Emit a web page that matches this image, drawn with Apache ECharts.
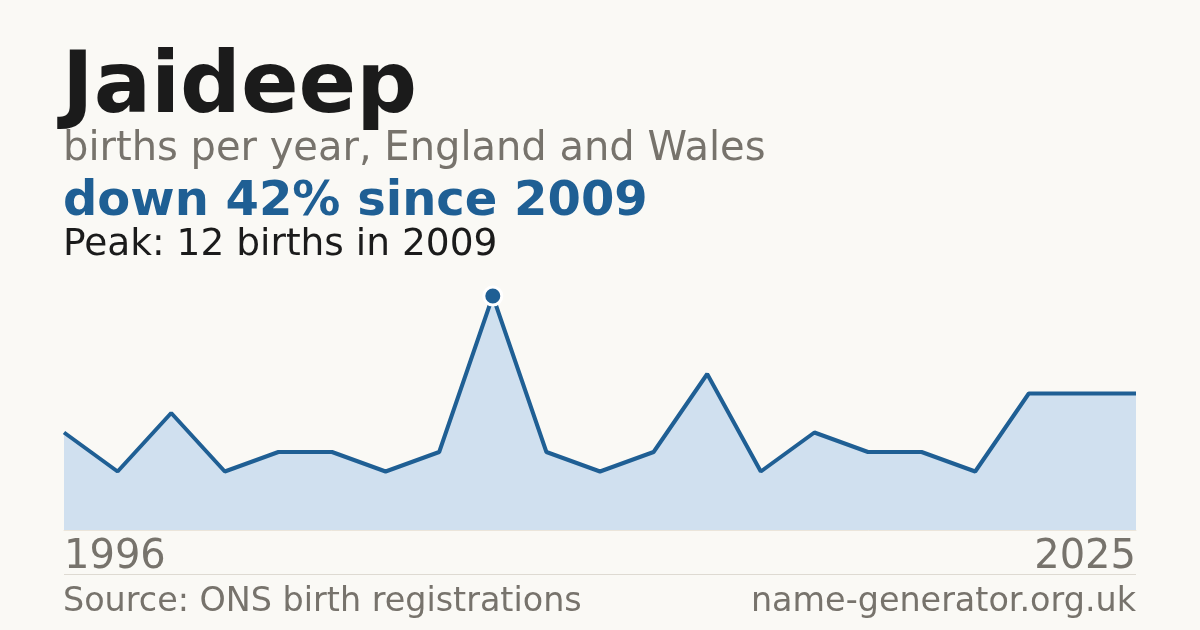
<!DOCTYPE html>
<html lang="en">
<head>
    <meta charset="UTF-8">
    <title>Jaideep</title>
    <script src="https://cdn.jsdelivr.net/npm/echarts@6/dist/echarts.min.js"></script>
    <style>
        html, body { margin: 0; height: 100%; background: #faf9f5; }
        #container { width: 1200px; height: 630px; }
    </style>
</head>
<body>
<div id="container"></div>
<script type="text/javascript">
    // births per year (only years with data)
    let years = ['1996', '1997', '1999', '2001', '2002', '2004', '2005', '2007', '2009', '2010', '2012',
        '2013', '2015', '2016', '2018', '2019', '2020', '2021', '2023', '2024', '2025'];
    let births = [5, 3, 6, 3, 4, 4, 3, 4, 12, 4, 3, 4, 8, 3, 5, 4, 4, 3, 7, 7, 7];

    let font = 'DejaVu Sans';
    let blue = '#1f5f94';
    let grey = '#77736c';

    let myChart = echarts.init(document.getElementById('container'));

    let option = {
        backgroundColor: '#faf9f5',
        animation: false,
        title: [
            { text: 'Jaideep', left: 62, top: 47, padding: 0,
                textStyle: { fontFamily: font, fontSize: 85, fontWeight: 'bold', color: '#1b1b1b' } },
            { text: 'births per year, England and Wales', left: 63, top: 130, padding: 0,
                textStyle: { fontFamily: font, fontSize: 40, fontWeight: 'normal', color: grey } },
            { text: 'down 42% since 2009', left: 63, top: 179, padding: 0,
                textStyle: { fontFamily: font, fontSize: 48, fontWeight: 'bold', color: blue } },
            { text: 'Peak: 12 births in 2009', left: 63, top: 226, padding: 0,
                textStyle: { fontFamily: font, fontSize: 37.5, fontWeight: 'normal', color: '#1b1b1b' } },
            { text: 'Source: ONS birth registrations', left: 63, top: 586, padding: 0,
                textStyle: { fontFamily: font, fontSize: 33.4, fontWeight: 'normal', color: grey } },
            { text: 'name-generator.org.uk', right: 64, top: 586, padding: 0,
                textStyle: { fontFamily: font, fontSize: 33.4, fontWeight: 'normal', color: grey } }
        ],
        grid: { left: 64, right: 64, top: 296, bottom: 100 },
        xAxis: {
            type: 'category',
            data: years,
            boundaryGap: false,
            axisLine: { show: true, lineStyle: { color: '#ebe5da', width: 1 } },
            axisTick: { show: false },
            splitLine: { show: false },
            axisLabel: {
                interval: function (i) { return i === 0 || i === years.length - 1; },
                alignMinLabel: 'left',
                alignMaxLabel: 'right',
                margin: 8,
                fontFamily: font,
                fontSize: 40,
                color: grey
            }
        },
        yAxis: {
            type: 'value',
            min: 0,
            max: 12,
            show: false
        },
        graphic: [{
            type: 'line',
            shape: { x1: 64, y1: 574.5, x2: 1136, y2: 574.5 },
            style: { stroke: '#dedad2', lineWidth: 1 }
        }],
        series: [{
            type: 'line',
            data: births,
            showSymbol: false,
            lineStyle: { color: blue, width: 4 },
            areaStyle: { color: '#d0e0ef', opacity: 1 },
            markPoint: {
                data: [{ type: 'max' }],
                symbol: 'circle',
                symbolSize: 18,
                itemStyle: { color: blue, borderColor: '#ffffff', borderWidth: 3 },
                label: { show: false }
            }
        }]
    };
    myChart.setOption(option);
</script>
</body>
</html>
